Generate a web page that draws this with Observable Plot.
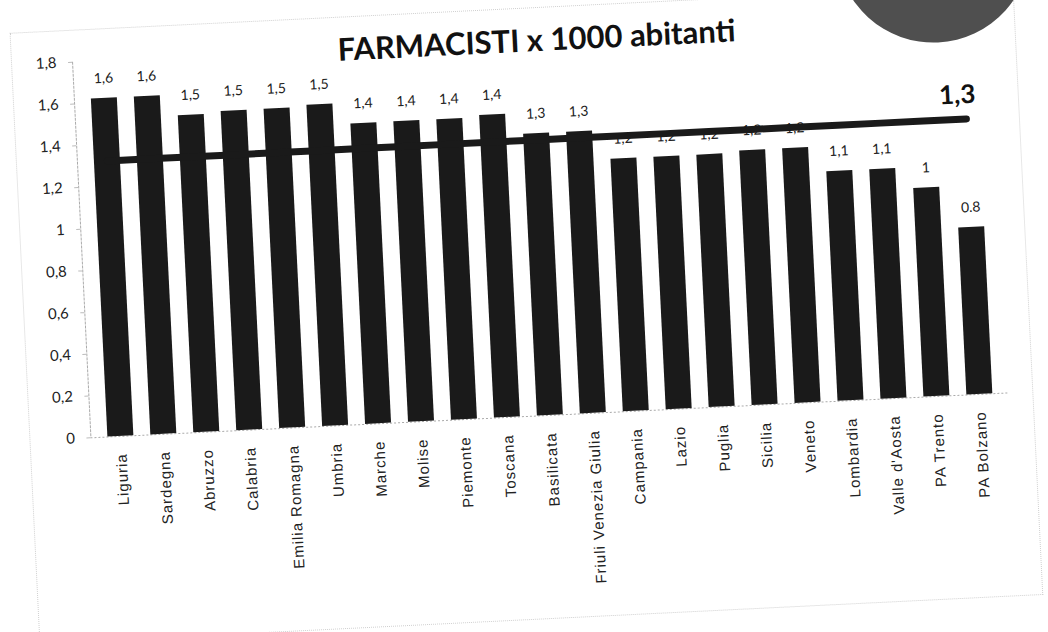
<!DOCTYPE html>
<html><head><meta charset="utf-8">
<script src="https://cdn.jsdelivr.net/npm/d3@7"></script>
<script src="https://cdn.jsdelivr.net/npm/@observablehq/plot@0.6"></script>
<style>
html,body{margin:0;padding:0;background:#fff;overflow:hidden;}
#page{position:relative;width:1048px;height:632px;transform:rotate(-2.8deg);transform-origin:524px 316px;}
#frame{position:absolute;left:24px;top:8px;width:1003px;height:610px;border:1px dotted #d0d0d0;}
#chart{position:absolute;left:0;top:0;}
#title{position:absolute;left:550px;top:21px;transform:translateX(-50%);font:bold 31px Lato, sans-serif;white-space:nowrap;color:#111;}
#blob{position:absolute;left:854px;top:-131px;width:194px;height:194px;border-radius:50%;background:#4f4f4f;}
#chart g[aria-label="x-axis tick label"] text{letter-spacing:1px;}
</style></head><body>
<div id="page"><div id="frame"></div><div id="chart"></div><div id="title">FARMACISTI x 1000 abitanti</div><div id="blob"></div></div>
<script>
const regioni = ["Liguria","Sardegna","Abruzzo","Calabria","Emilia Romagna","Umbria","Marche","Molise","Piemonte","Toscana","Basilicata","Friuli Venezia Giulia","Campania","Lazio","Puglia","Sicilia","Veneto","Lombardia","Valle d'Aosta","PA Trento","PA Bolzano"];
const valori = [1.62,1.62,1.52,1.53,1.53,1.54,1.44,1.44,1.44,1.45,1.35,1.35,1.21,1.21,1.21,1.22,1.22,1.10,1.10,1.00,0.80];
const etichette = ["1,6","1,6","1,5","1,5","1,5","1,5","1,4","1,4","1,4","1,4","1,3","1,3","1,2","1,2","1,2","1,2","1,2","1,1","1,1","1","0.8"];
const media = 1.32;
const mediaEtichetta = "1,3";
const yTicks = [0,0.2,0.4,0.6,0.8,1,1.2,1.4,1.6,1.8];
const yTickLabels = ["0","0,2","0,4","0,6","0,8","1","1,2","1,4","1,6","1,8"];

const data = regioni.map((r,i)=>({regione:r, valore:valori[i], etichetta:etichette[i]}));

const chart = Plot.plot({
  width:1048, height:632,
  marginLeft:85, marginRight:44, marginTop:40, marginBottom:216,
  style:{fontFamily:"Lato, sans-serif", background:"transparent", color:"#222"},
  x:{domain:regioni, paddingInner:0.4, paddingOuter:0.2, label:null},
  y:{domain:[0,1.8], label:null},
  marks:[
    Plot.frame({anchor:"left", stroke:"#aaa", strokeDasharray:"2,2"}),
    Plot.ruleY([0], {stroke:"#aaa", strokeDasharray:"2,2"}),
    Plot.axisY(yTicks, {tickFormat:d=>yTickLabels[yTicks.indexOf(d)], fontSize:15, tickSize:4, tickPadding:12, stroke:"#bbb", fill:"#222", label:null}),
    Plot.axisX({tickRotate:-90, tickSize:0, tickPadding:17, fontSize:15, fontFamily:"Liberation Sans, sans-serif", fill:"#222", label:null}),
    Plot.barY(data, {x:"regione", y:"valore", fill:"#1a1a1a"}),
    Plot.text(data, {x:"regione", y:"valore", text:"etichetta", dy:-20, fontSize:14, fill:"#222"}),
    Plot.lineY(regioni, {x:d=>d, y:()=>media, stroke:"#1a1a1a", strokeWidth:7}),
    Plot.text([media], {x:()=>regioni[regioni.length-1], y:d=>d, text:()=>mediaEtichetta, dx:-8, dy:-24, fontSize:26, fontWeight:"bold", fill:"#111"})
  ]
});
document.getElementById("chart").appendChild(chart);
</script>
</body></html>
